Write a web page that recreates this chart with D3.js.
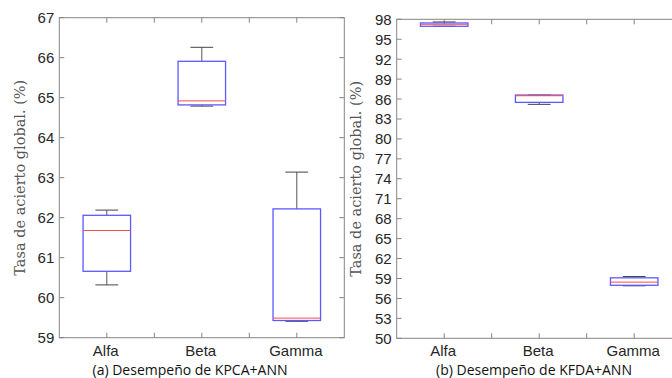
<!DOCTYPE html>
<html>
<head>
<meta charset="utf-8">
<script src="https://cdn.jsdelivr.net/npm/d3@7"></script>
<style>
  body { margin: 0; background: #fff; }
  svg { display: block; }
</style>
</head>
<body>
<svg id="chart" width="672" height="378"></svg>
<script>
// categories
const groups = ["Alfa", "Beta", "Gamma"];

// KPCA+ANN box stats: [lower whisker, q1, median, q3, upper whisker]
const kpcaStats = [
    [60.32, 60.66, 61.68, 62.06, 62.19],
    [64.79, 64.82, 64.92, 65.91, 66.26],
    [59.41, 59.43, 59.49, 62.22, 63.14]
];
// KFDA+ANN box stats
const kfdaStats = [
    [96.95, 96.95, 97.25, 97.45, 97.6],
    [85.2, 85.5, 86.5, 86.6, 86.6],
    [57.9, 57.98, 58.45, 59.1, 59.3]
];

const kpcaTicks = [59, 60, 61, 62, 63, 64, 65, 66, 67];
const kfdaTicks = d3.range(50, 99, 3);

const panels = [
    { stats: kpcaStats, ticks: kpcaTicks, domain: [59, 67], caption: "(a) Desempeño de KPCA+ANN",
      left: 59.3, right: 344.3, top: 17.7, bottom: 337.7, labelX: 25, capX: 190 },
    { stats: kfdaStats, ticks: kfdaTicks, domain: [50, 98], caption: "(b) Desempeño de KFDA+ANN",
      left: 396.7, right: 681.7, top: 19.3, bottom: 338.3, labelX: 361, capX: 534 }
];

const svg = d3.select("#chart");
const axisColor = "#858585";
const textColor = "#262626";

panels.forEach(p => {
    let x = d3.scaleLinear().domain([0.5, 3.5]).range([p.left, p.right]);
    let y = d3.scaleLinear().domain(p.domain).range([p.bottom, p.top]);
    let g = svg.append("g");

    // frame
    g.append("rect")
        .attr("x", p.left).attr("y", p.top)
        .attr("width", p.right - p.left).attr("height", p.bottom - p.top)
        .attr("fill", "none").attr("stroke", axisColor).attr("stroke-width", 1);

    // y ticks (inward, both sides) and labels
    p.ticks.forEach(t => {
        g.append("line").attr("x1", p.left).attr("x2", p.left + 5)
            .attr("y1", y(t)).attr("y2", y(t)).attr("stroke", axisColor);
        g.append("line").attr("x1", p.right).attr("x2", p.right - 5)
            .attr("y1", y(t)).attr("y2", y(t)).attr("stroke", axisColor);
        g.append("text").attr("x", p.left - 5).attr("y", y(t) + 5.5)
            .attr("text-anchor", "end")
            .style("font-family", "Liberation Sans, Arial, sans-serif")
            .style("font-size", "15px").attr("fill", textColor)
            .text(t);
    });

    // x ticks at 1, 1.5, 2, 2.5, 3
    [1, 1.5, 2, 2.5, 3].forEach(t => {
        g.append("line").attr("x1", x(t)).attr("x2", x(t))
            .attr("y1", p.bottom).attr("y2", p.bottom - 5).attr("stroke", axisColor);
        g.append("line").attr("x1", x(t)).attr("x2", x(t))
            .attr("y1", p.top).attr("y2", p.top + 5).attr("stroke", axisColor);
    });
    groups.forEach((name, i) => {
        g.append("text").attr("x", x(i + 1) - 1).attr("y", p.bottom + 18)
            .attr("text-anchor", "middle")
            .style("font-family", "Liberation Sans, Arial, sans-serif")
            .style("font-size", "15px").attr("fill", textColor)
            .text(name);
    });

    // boxes
    p.stats.forEach((s, i) => {
        let cx = x(i + 1);
        let bw = x(1.25) - x(1);
        let cw = x(1.12) - x(1);
        // whiskers
        g.append("line").attr("x1", cx).attr("x2", cx)
            .attr("y1", y(s[3])).attr("y2", y(s[4])).attr("stroke", "#555");
        g.append("line").attr("x1", cx).attr("x2", cx)
            .attr("y1", y(s[1])).attr("y2", y(s[0])).attr("stroke", "#555");
        g.append("line").attr("x1", cx - cw).attr("x2", cx + cw)
            .attr("y1", y(s[4])).attr("y2", y(s[4])).attr("stroke", "#444");
        g.append("line").attr("x1", cx - cw).attr("x2", cx + cw)
            .attr("y1", y(s[0])).attr("y2", y(s[0])).attr("stroke", "#444");
        // box
        g.append("rect").attr("x", cx - bw).attr("width", 2 * bw)
            .attr("y", y(s[3])).attr("height", Math.max(0, y(s[1]) - y(s[3])))
            .attr("fill", "none").attr("stroke", "#5a5aff").attr("stroke-width", 1.3);
        // median
        g.append("line").attr("x1", cx - bw).attr("x2", cx + bw)
            .attr("y1", y(s[2])).attr("y2", y(s[2]))
            .attr("stroke", "#ff4a4a").attr("stroke-width", 1);
    });

    // y label
    g.append("text")
        .attr("transform", "translate(" + p.labelX + "," + ((p.top + p.bottom) / 2) + ") rotate(-90)")
        .attr("text-anchor", "middle")
        .style("font-family", "DejaVu Serif, Liberation Serif, serif")
        .style("font-size", "14.5px").attr("fill", "#555")
        .text("Tasa de acierto global. (%)");

    // caption
    g.append("text").attr("x", p.capX).attr("y", 375)
        .attr("text-anchor", "middle")
        .style("font-family", "Open Sans, Noto Sans, sans-serif")
        .style("font-size", "14px").attr("fill", "#111")
        .text(p.caption);
});
</script>
</body>
</html>
